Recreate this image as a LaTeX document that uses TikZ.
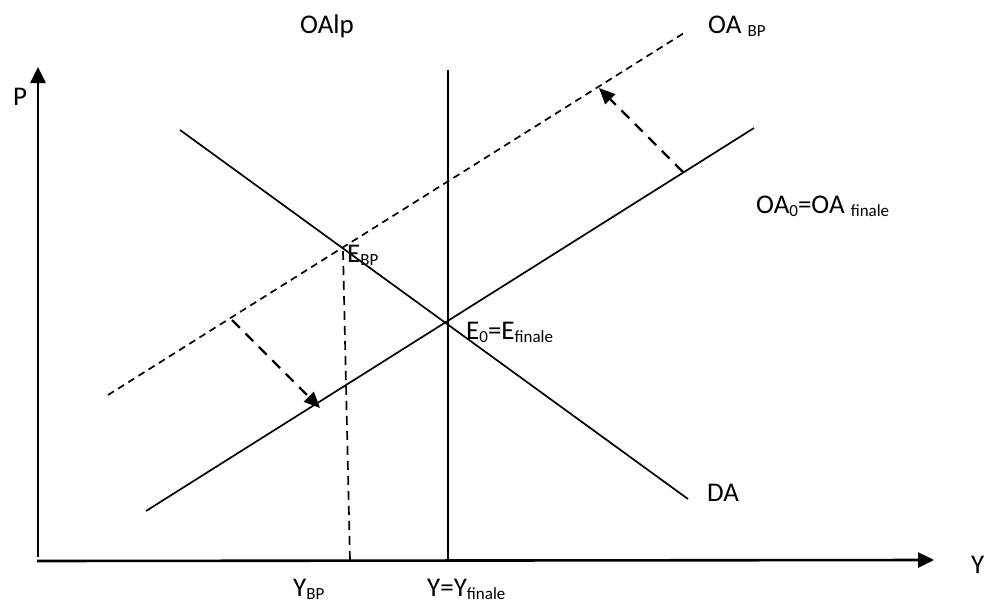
\documentclass[tikz,border=0pt]{standalone}
\usepackage{fontspec}
\setmainfont{Carlito}
\usetikzlibrary{arrows.meta}
\newcommand\sbs[1]{\raisebox{-3.5pt}{\fontsize{17}{17}\selectfont #1}}
\begin{document}
\begin{tikzpicture}[x=1pt,y=-1pt,
  axis/.style={line width=2.6pt,-{Triangle[length=16pt,width=15pt]}},
  curve/.style={line width=1.7pt},
  shortdash/.style={line width=1.7pt,dash pattern=on 7pt off 5pt},
  shiftarrow/.style={line width=2.2pt,dash pattern=on 11pt off 8pt,-{Triangle[length=16pt,width=14pt]}},
  lab/.style={anchor=base west,inner sep=0pt,font=\fontsize{27}{31}\selectfont}]
\useasboundingbox (0,0) rectangle (986,605);
% coordinates
\coordinate (ytip) at (38,67);
\coordinate (ybot) at (38,557);
\coordinate (xl) at (37,561);
\coordinate (xtip) at (934,560);
\coordinate (vtop) at (448,70);
\coordinate (vbot) at (448,561);
\coordinate (da1) at (180,130);
\coordinate (da2) at (688,499);
\coordinate (oa1) at (146,511);
\coordinate (oa2) at (754,128);
\coordinate (bp1) at (108,395);
\coordinate (bp2) at (684,33);
\coordinate (ebp) at (343,251);
\coordinate (ybp) at (350,561);
\coordinate (t1) at (683,172);
\coordinate (h1) at (599,88);
\coordinate (t2) at (232,320);
\coordinate (h2) at (320,408);
% axes
\draw[axis] (ybot) -- (ytip);
\draw[axis] (xl) -- (xtip);
% curves
\draw[curve] (vtop) -- (vbot);
\draw[curve] (da1) -- (da2);
\draw[curve] (oa1) -- (oa2);
\draw[shortdash] (bp1) -- (bp2);
\draw[shortdash,dash pattern=on 9pt off 6pt] (ebp) -- (ybp);
% shift arrows
\draw[shiftarrow] (t1) -- (h1);
\draw[shiftarrow] (t2) -- (h2);
% labels
\node[lab] (lP) at (13,105) {P};
\node[lab] (lY) at (971,573) {Y};
\node[lab] (lOAlp) at (300,33) {OAlp};
\node[lab] (lOABP) at (708,33) {OA \sbs{BP}};
\node[lab] (lOA0) at (756,213) {OA\sbs{0}=OA \sbs{finale}};
\node[lab] (lEBP) at (347,262) {E\sbs{BP}};
\node[lab] (lE0) at (466,339) {E\sbs{0}=E\sbs{finale}};
\node[lab] (lDA) at (707,501) {DA};
\node[lab] (lYBP) at (293,596) {Y\sbs{BP}};
\node[lab] (lYf) at (427,596) {Y=Y\sbs{finale}};
\end{tikzpicture}
\end{document}
